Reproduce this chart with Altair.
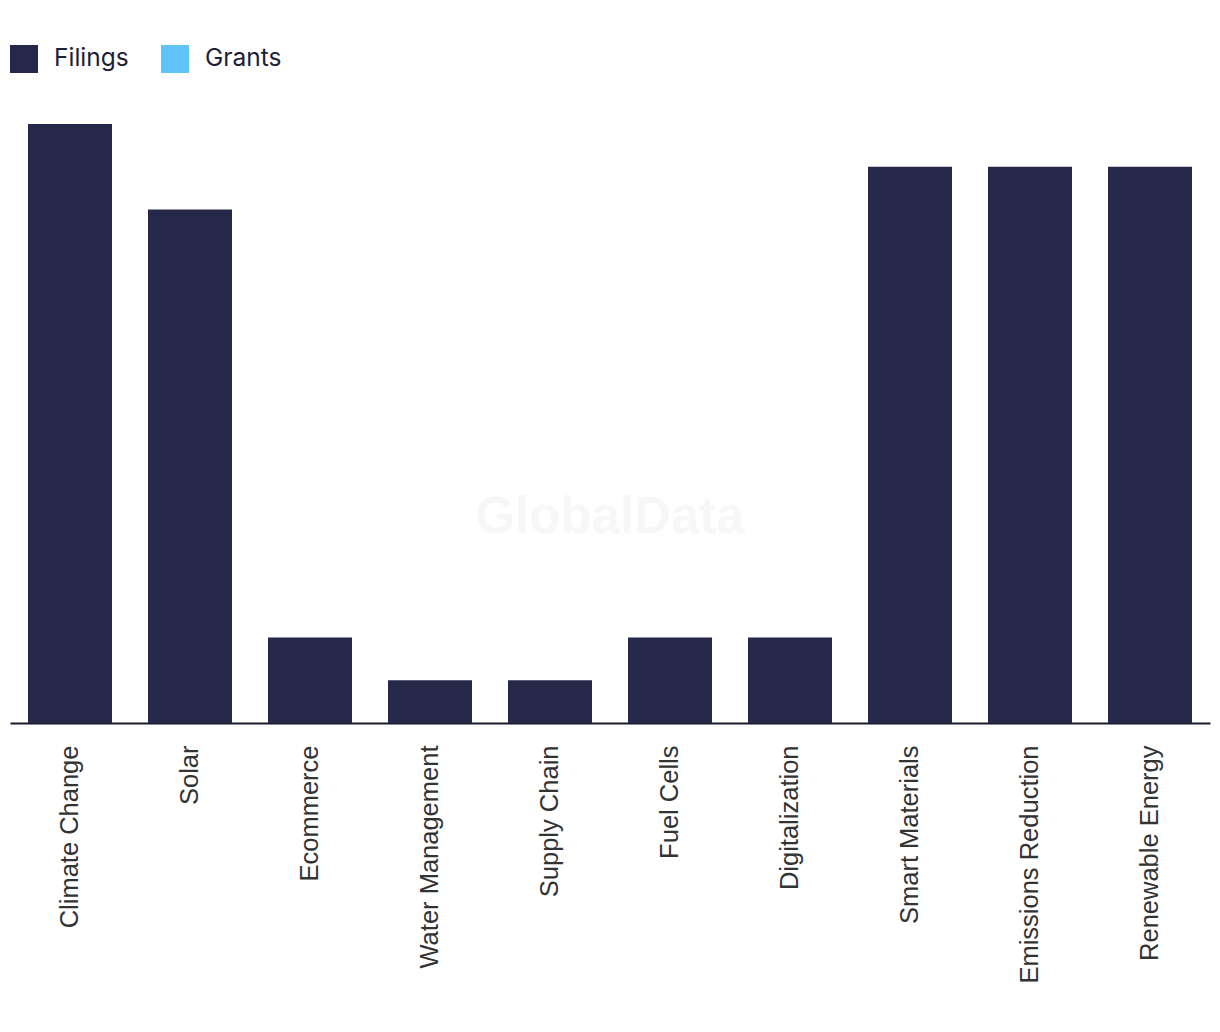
import altair as alt
import pandas as pd

categories = ["Climate Change", "Solar", "Ecommerce", "Water Management", "Supply Chain",
              "Fuel Cells", "Digitalization", "Smart Materials", "Emissions Reduction", "Renewable Energy"]
filings = [14, 12, 2, 1, 1, 2, 2, 13, 13, 13]
grants = [0, 0, 0, 0, 0, 0, 0, 0, 0, 0]
series = ["Filings", "Grants"]
colors = ["#26284a", "#62c3f8"]

rows = []
for c, f, g in zip(categories, filings, grants):
    rows.append({"category": c, "series": "Filings", "value": f})
    rows.append({"category": c, "series": "Grants", "value": g})
df = pd.DataFrame(rows)

bars = alt.Chart(df).mark_bar().encode(
    x=alt.X("category:N", sort=categories, title=None,
            scale=alt.Scale(paddingInner=0.3, paddingOuter=0.15),
            axis=alt.Axis(labelAngle=-90, labelFontSize=25.5, labelColor="#333333",
                          labelFont="Liberation Sans", labelPadding=22, ticks=False,
                          domainColor="#1a1a2e", domainWidth=2, labelLimit=400)),
    y=alt.Y("value:Q", stack="zero", axis=None,
            scale=alt.Scale(domain=[0, 14], nice=False)),
    color=alt.Color("series:N", sort=series,
                    scale=alt.Scale(domain=series, range=colors),
                    legend=alt.Legend(title=None, orient="none", direction="horizontal",
                                      legendX=0, legendY=-79, symbolType="square",
                                      symbolSize=784, symbolStrokeWidth=0, symbolOpacity=1,
                                      labelFontSize=24.5, labelFont="Inter", labelColor="#1e1e36",
                                      labelOffset=16, columnPadding=32)),
    order=alt.Order("series:N", sort="ascending"),
)

wm = alt.Chart(pd.DataFrame({"t": ["GlobalData"]})).mark_text(
    fontSize=51, fontWeight="bold", font="Liberation Sans", color="#f7f7f7",
    align="center", baseline="middle"
).encode(x=alt.value(600), y=alt.value(394), text="t:N")

chart = alt.layer(wm, bars).properties(
    width=1200, height=599,
    autosize=alt.AutoSizeParams(type="none"),
    padding={"left": 10, "top": 124, "right": 10, "bottom": 300},
).configure(background="white").configure_view(stroke=None)

chart.save("out.html", embed_options={"renderer": "svg", "actions": False})
